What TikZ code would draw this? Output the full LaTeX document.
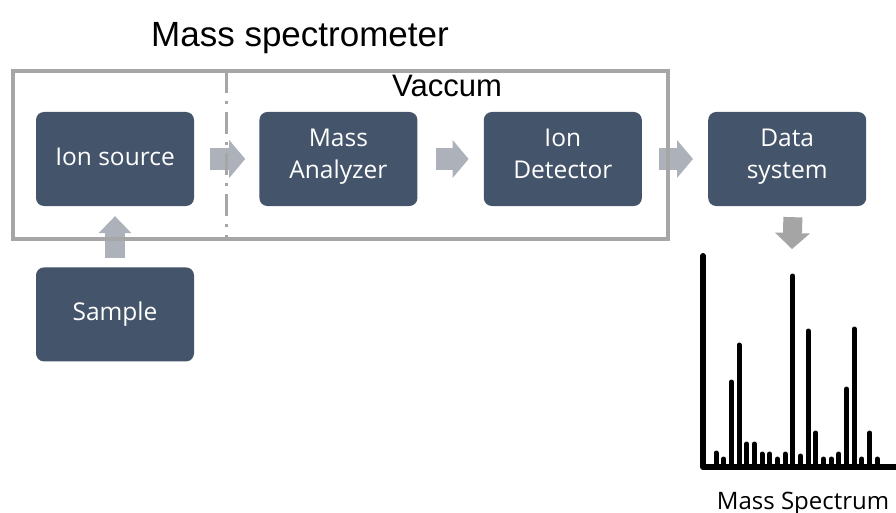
\documentclass[tikz,border=0pt]{standalone}
\usepackage{fontspec}
\setmainfont{Open Sans}
\newfontfamily\arialfont{Liberation Sans}
\usetikzlibrary{arrows.meta,positioning,calc}
\definecolor{boxblue}{HTML}{44546A}
\definecolor{arrowgray}{HTML}{ADB2BA}
\definecolor{downgray}{HTML}{A5A5A5}
\definecolor{framegray}{HTML}{A6A6A6}
\tikzset{
    msbox/.style={fill=boxblue, text=white, rounded corners=8pt, minimum width=158pt,
        minimum height=94pt, align=center, font=\fontsize{24.5}{32}\selectfont,
        execute at begin node=\strut, execute at end node=\strut},
    flow/.style={arrowgray, line width=22pt, -{Triangle[width=38pt,length=16pt,line width=0pt]}},
    msframe/.style={framegray, line width=4pt},
    bar/.style={line width=5pt, line cap=round},
}

\begin{document}
\begin{tikzpicture}[x=1pt,y=-1pt]
        \useasboundingbox (0,0) rectangle (896,513);
        \node[msbox] (ionsrc) at (115,159) {Ion source};
        \node[msbox, right=65pt of ionsrc] (analyzer) {Mass\\Analyzer};
        \node[msbox, right=66pt of analyzer] (detector) {Ion\\Detector};
        \node[msbox, right=66pt of detector] (datasys) {Data\\system};
        \node[msbox, below=61pt of ionsrc] (sample) {Sample};
        \draw[flow, shorten <=16pt, shorten >=14pt] (ionsrc) -- (analyzer);
        \draw[flow, shorten <=18pt, shorten >=15pt] (analyzer) -- (detector);
        \draw[flow, shorten <=17pt, shorten >=15pt] (detector) -- (datasys);
        \draw[flow, line width=20pt, -{Triangle[width=33pt,length=17pt,line width=0pt]},
            shorten <=9pt, shorten >=10pt] (sample) -- (ionsrc);
        \coordinate (spectop) at (792,249);
        \draw[flow, downgray, line width=19pt, -{Triangle[width=35pt,length=16pt,line width=0pt]},
            shorten <=11pt] ([xshift=6pt]datasys.south) -- (spectop);
        \draw[msframe] (13,71) rectangle (668,239);
        \draw[msframe, line width=3pt, dash pattern=on 22pt off 8pt on 3pt off 8pt] (226,71) -- (226,239);
        \node[font=\arialfont\fontsize{35}{42}\selectfont, anchor=base] (title) at (300,47) {Mass spectrometer};
        \node[font=\arialfont\fontsize{31}{36}\selectfont, anchor=base] (vaccum) at (447,97) {Vaccum};
        \draw[line width=6pt, line cap=round, line join=round] (703,256) -- (703,467) -- (900,467);
        \foreach \h [count=\i from 0] in {453,459,382,345,444,444,454,454,459,454,276,456,331,433,459,459,454,389,329,459,433,459} {
            \draw[bar] ({716+7.68*\i},467) -- ({716+7.68*\i},\h);
        }
        \node[font=\fontsize{24}{28}\selectfont, anchor=base] (speclabel) at (803,509) {Mass Spectrum};
\end{tikzpicture}
\end{document}
